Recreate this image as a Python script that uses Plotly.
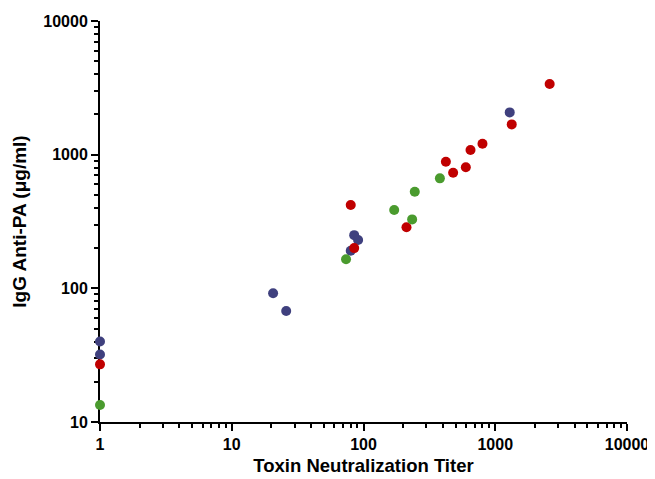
import plotly.graph_objects as go

# Data (x: toxin neutralization titer, y: IgG anti-PA µg/ml)
blue_x = [1, 1, 20.6, 25.9, 85, 91, 80, 1288]
blue_y = [40, 32, 92, 67.6, 250, 230, 191, 2072]

red_x = [1, 80, 85, 212, 422, 479, 598, 649, 800, 1334, 2588]
red_y = [27, 420, 200, 286, 885, 732, 804, 1083, 1207, 1685, 3375]

green_x = [1, 73.7, 171, 234, 245, 380]
green_y = [13.4, 165, 385, 328, 528, 665]

fig = go.Figure()
for xs, ys, col in [(blue_x, blue_y, "#3f407e"),
                    (red_x, red_y, "#c00000"),
                    (green_x, green_y, "#4a9b2e")]:
    fig.add_trace(go.Scatter(x=xs, y=ys, mode="markers", cliponaxis=False,
                             marker=dict(size=10, color=col, line=dict(width=0)),
                             showlegend=False))

fam = "Liberation Sans, Arial, sans-serif"
font_tick = dict(family=fam, size=16, color="black", weight="bold")
font_xt = dict(family=fam, size=18.5, color="black")
font_yt = dict(family=fam, size=19, color="black")

common = dict(
    type="log", tick0=0, dtick=1, tickformat="d",
    showgrid=False, zeroline=False, showline=True, linecolor="black", linewidth=2,
    ticks="outside", ticklen=7, tickwidth=2, tickcolor="black",
    minor=dict(ticks="outside", ticklen=4, tickwidth=1.5, tickcolor="black",
               dtick="D1", showgrid=False),
    tickfont=font_tick, layer="below traces", automargin=False,
)

# page body has an 8px margin, so the figure is sized/offset to compensate
fig.update_layout(
    width=647, height=471,
    margin=dict(l=91.5, r=28, t=13, b=57),
    plot_bgcolor="white", paper_bgcolor="white",
    font=dict(family=fam, size=16, color="black"),
)
fig.update_xaxes(range=[0, 4],
                 title=dict(text="<b>Toxin Neutralization Titer</b>", font=font_xt, standoff=7),
                 **common)
fig.update_yaxes(range=[1, 4],
                 title=dict(text="<b>IgG Anti-PA (μg/ml)</b>", font=font_yt, standoff=12),
                 **common)

fig.write_html("out.html")
